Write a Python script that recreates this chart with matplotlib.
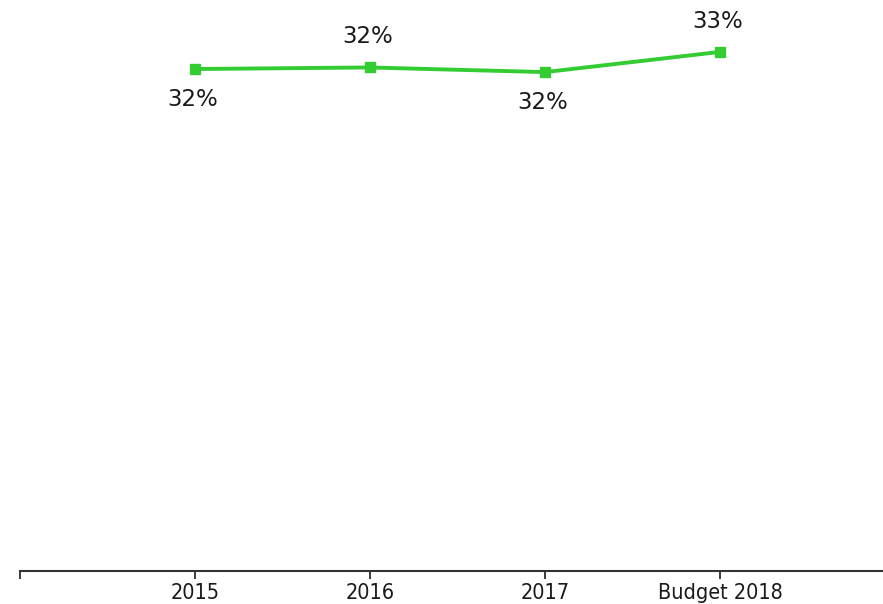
import numpy as np
import matplotlib
matplotlib.use('Agg')
import matplotlib.pyplot as plt

categories = ['2015', '2016', '2017', 'Budget 2018']
share = [0.323, 0.324, 0.321, 0.334]
label_above = [False, True, False, True]


def main():
    fig = plt.figure(figsize=(8.83, 6.04), dpi=100)
    ax = fig.add_axes([20 / 883, 33 / 604, 875 / 883, 571 / 604])

    x = np.arange(1, len(categories) + 1)
    ax.plot(x, share, color='#33cc33', linewidth=2.8, marker='s', markersize=6.5,
            solid_capstyle='round', clip_on=False)

    for xi, v, up in zip(x, share, label_above):
        off = 22 if up else -22
        ax.annotate('{:.0%}'.format(v), (xi, v), xytext=(-2, off), textcoords='offset points',
                    ha='center', va='center', fontsize=16.5, color='#1a1a1a')

    ax.set_xlim(0, len(categories) + 1)
    ax.set_ylim(0, 0.3674)
    ax.set_xticks(np.arange(0, len(categories) + 1))
    ax.set_xticklabels([''] + categories, fontstretch='condensed')
    ax.tick_params(axis='x', direction='out', length=6, width=1.2, pad=2.5,
                   labelsize=15.5, colors='#1a1a1a')
    ax.set_yticks([])
    for side in ['top', 'right', 'left']:
        ax.spines[side].set_visible(False)
    ax.spines['bottom'].set_linewidth(1.5)
    ax.spines['bottom'].set_color('#333333')

    fig.savefig('out.png', dpi=100)


if __name__ == '__main__':
    main()
